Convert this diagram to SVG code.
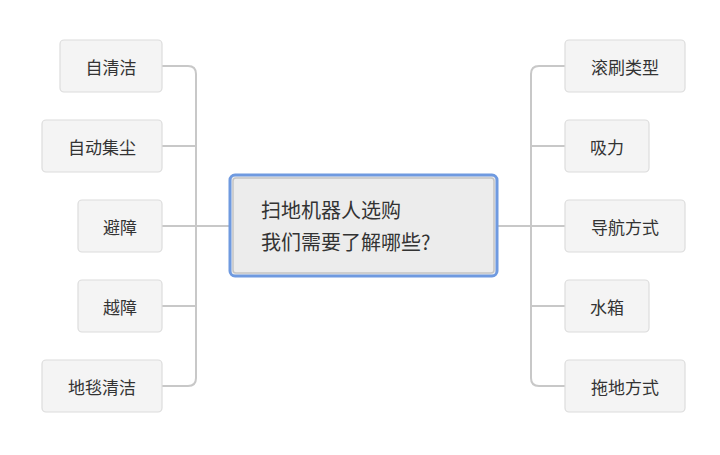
<svg xmlns="http://www.w3.org/2000/svg" width="720" height="455" viewBox="0 0 720 455">
<style>
.n rect{fill:#f4f4f4;stroke:#dcdcdc;stroke-width:1.2}
.n text{font-family:"Noto Sans CJK SC",sans-serif;font-size:17px;fill:#333;text-anchor:middle;dominant-baseline:central}
.c path{fill:none;stroke:#c8c8c8;stroke-width:2}
</style>
<rect width="720" height="455" fill="#fff"/>
<g class="c">
<path d="M162 226H229M498 226H565"/>
<path d="M162 66H188Q196 66 196 74V378Q196 386 188 386H162M162 146H196M162 306H196"/>
<path d="M565 66H539Q531 66 531 74V378Q531 386 539 386H565M565 146H531M565 306H531"/>
</g>
<g id="center">
<rect x="230" y="175" width="267" height="101" rx="5" fill="#ececec" stroke="#6f9ae0" stroke-width="3"/>
<rect x="233" y="178" width="261" height="95" rx="3" fill="none" stroke="#c4c4c4" stroke-width="1.5"/>
<text x="261" y="218" font-family="Noto Sans CJK SC,sans-serif" font-size="20" fill="#333">扫地机器人选购</text>
<text x="261" y="250" font-family="Noto Sans CJK SC,sans-serif" font-size="20" fill="#333">我们需要了解哪些?</text>
</g>
<g id="l1" class="n"><rect x="60" y="40" width="102" height="52" rx="4"/><text x="111" y="66">自清洁</text></g>
<g id="l2" class="n"><rect x="42" y="120" width="120" height="52" rx="4"/><text x="102" y="146">自动集尘</text></g>
<g id="l3" class="n"><rect x="78" y="200" width="84" height="52" rx="4"/><text x="120" y="226">避障</text></g>
<g id="l4" class="n"><rect x="78" y="280" width="84" height="52" rx="4"/><text x="120" y="306">越障</text></g>
<g id="l5" class="n"><rect x="42" y="360" width="120" height="52" rx="4"/><text x="102" y="386">地毯清洁</text></g>
<g id="r1" class="n"><rect x="565" y="40" width="120" height="52" rx="4"/><text x="625" y="66">滚刷类型</text></g>
<g id="r2" class="n"><rect x="565" y="120" width="84" height="52" rx="4"/><text x="607" y="146">吸力</text></g>
<g id="r3" class="n"><rect x="565" y="200" width="120" height="52" rx="4"/><text x="625" y="226">导航方式</text></g>
<g id="r4" class="n"><rect x="565" y="280" width="84" height="52" rx="4"/><text x="607" y="306">水箱</text></g>
<g id="r5" class="n"><rect x="565" y="360" width="120" height="52" rx="4"/><text x="625" y="386">拖地方式</text></g>
</svg>
